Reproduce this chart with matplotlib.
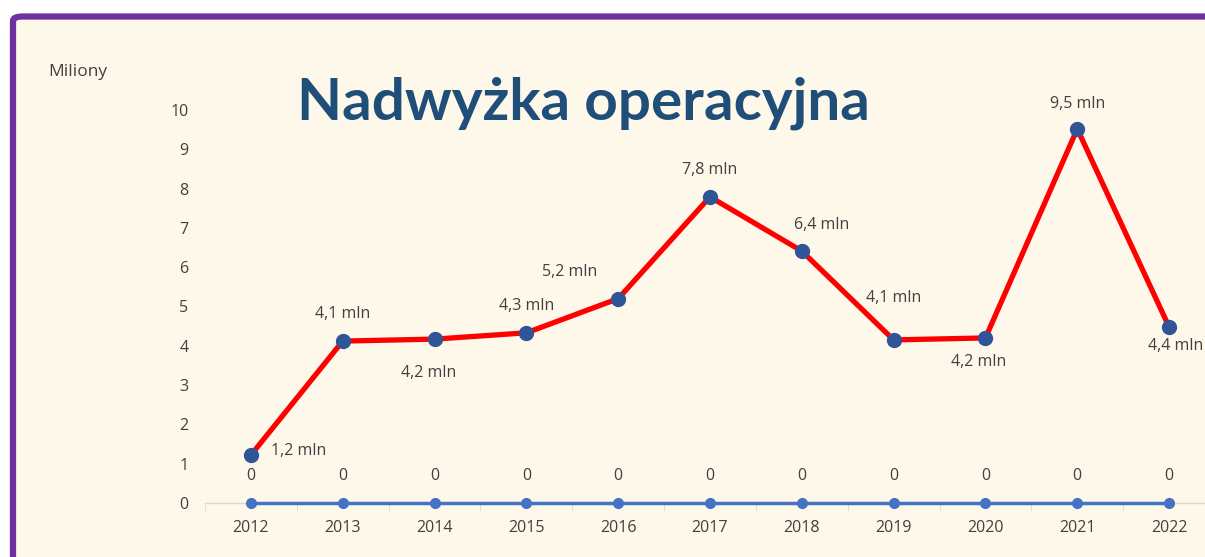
import matplotlib.pyplot as plt
from matplotlib.patches import FancyBboxPatch

years = ["2012", "2013", "2014", "2015", "2016", "2017", "2018", "2019", "2020", "2021", "2022"]
surplus = [1.22, 4.12, 4.17, 4.33, 5.2, 7.79, 6.41, 4.15, 4.2, 9.52, 4.48]
surplus_labels = ["1,2 mln", "4,1 mln", "4,2 mln", "4,3 mln", "5,2 mln", "7,8 mln",
                  "6,4 mln", "4,1 mln", "4,2 mln", "9,5 mln", "4,4 mln"]
zero_series = [0, 0, 0, 0, 0, 0, 0, 0, 0, 0, 0]

# label placement per point (offset in points)
offsets = [(34, 3), (0, 19.5), (-4, -24.5), (0, 19.5), (-35, 19.5), (0, 19),
           (14, 19), (0, 30), (-5, -17.5), (0, 18), (5, -14)]

plt.rcParams["font.family"] = ["Open Sans", "DejaVu Sans"]
txt = "#404040"
fs = 11.5

fig = plt.figure(figsize=(12.05, 5.57), dpi=100)
fig.patch.set_facecolor("white")

# purple frame, cut off at right and bottom
frame = FancyBboxPatch((13 / 1205, -0.2), 1.2, (557 - 16.5) / 557 + 0.2,
                       boxstyle="round,pad=0,rounding_size=0.008",
                       transform=fig.transFigure, facecolor="#FEF8EA",
                       edgecolor="#7030A0", linewidth=4.5, zorder=-5)
fig.patches.append(frame)

ax = fig.add_axes([205 / 1205, (557 - 503) / 557, 1010 / 1205, 393 / 557])
ax.set_facecolor("none")
ax.set_zorder(2)
x = list(range(len(years)))

ax.plot(x, zero_series, color="#4472C4", lw=2.5, marker="o", ms=7, clip_on=False, zorder=3)
for xi, v in zip(x, zero_series):
    ax.annotate(str(v), (xi, v), xytext=(0, 19.5), textcoords="offset points",
                ha="center", va="center", fontsize=fs, color=txt)

ax.plot(x, surplus, color="#FF0000", lw=3.8, marker="o", ms=10,
        markerfacecolor="#2F5597", markeredgecolor="#2F5597", clip_on=False, zorder=4)
for xi, v, lab, off in zip(x, surplus, surplus_labels, offsets):
    ax.annotate(lab, (xi, v), xytext=off, textcoords="offset points",
                ha="center", va="center", fontsize=fs, color=txt)

ax.set_xlim(-0.5, 10.5)
ax.set_ylim(0, 10)
ax.set_yticks(range(0, 11))
ax.set_xticks(x)
ax.set_xticklabels(years)
ax.set_xticks([i + 0.5 for i in range(-1, 11)], minor=True)
ax.tick_params(axis="x", which="major", length=0, pad=12, labelsize=fs, labelcolor=txt)
ax.tick_params(axis="x", which="minor", length=6, color="#D9D9D9", direction="out")
ax.tick_params(axis="y", length=0, pad=12, labelsize=fs, labelcolor=txt)
for s in ["top", "right", "left"]:
    ax.spines[s].set_visible(False)
ax.spines["bottom"].set_color("#D9D9D9")
ax.spines["bottom"].set_linewidth(1)

fig.text(48 / 1205, 1 - 72 / 557, "Miliony", fontsize=12.5, color=txt, ha="left", va="center")
fig.text(583 / 1205, 1 - 103 / 557, "Nadwyżka operacyjna", fontsize=42, fontweight="bold",
         color="#1F4E79", ha="center", va="center", family=["Lato", "DejaVu Sans"])

fig.savefig("out.png", dpi=100, facecolor=fig.get_facecolor())
